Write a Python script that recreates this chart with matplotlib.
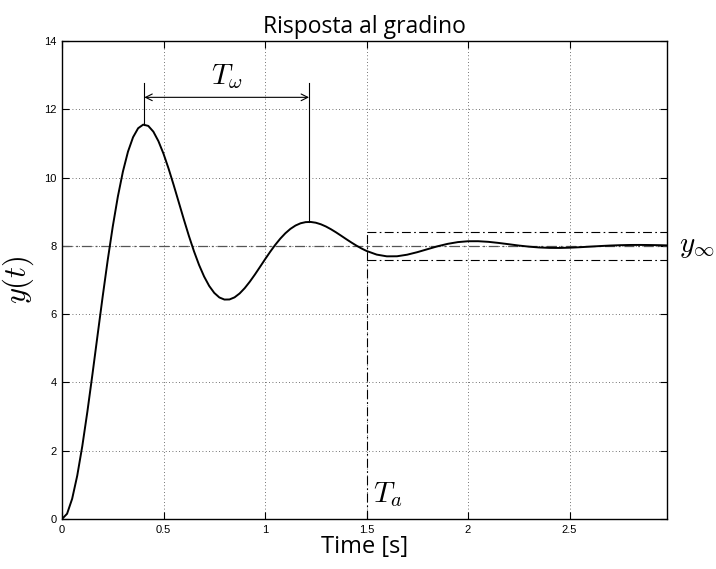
import matplotlib
matplotlib.use("Agg")
import matplotlib.pyplot as plt

plt.rcParams['mathtext.fontset'] = 'cm'

# Step response
t_vals = [0.000, 0.025, 0.050, 0.075, 0.100, 0.125, 0.150, 0.175, 0.200, 0.225,
          0.250, 0.275, 0.300, 0.325, 0.350, 0.375, 0.400, 0.425, 0.450, 0.475,
          0.500, 0.525, 0.550, 0.575, 0.600, 0.625, 0.650, 0.675, 0.700, 0.725,
          0.750, 0.775, 0.800, 0.825, 0.850, 0.875, 0.900, 0.925, 0.950, 0.975,
          1.000, 1.025, 1.050, 1.075, 1.100, 1.125, 1.150, 1.175, 1.200, 1.225,
          1.250, 1.275, 1.300, 1.325, 1.350, 1.375, 1.400, 1.425, 1.450, 1.475,
          1.500, 1.550, 1.600, 1.650, 1.700, 1.750, 1.800, 1.850, 1.900, 1.950,
          2.000, 2.050, 2.100, 2.150, 2.200, 2.250, 2.300, 2.350, 2.400, 2.450,
          2.500, 2.550, 2.600, 2.650, 2.700, 2.750, 2.800, 2.850, 2.900, 2.950,
          2.980]
y_vals = [0.000, 0.154, 0.592, 1.268, 2.136, 3.144, 4.240, 5.374, 6.500, 7.576,
          8.565, 9.439, 10.175, 10.759, 11.182, 11.445, 11.551, 11.513, 11.345, 11.066,
          10.698, 10.262, 9.782, 9.280, 8.777, 8.292, 7.843, 7.442, 7.101, 6.826,
          6.622, 6.489, 6.427, 6.430, 6.492, 6.606, 6.762, 6.950, 7.159, 7.381,
          7.605, 7.823, 8.027, 8.210, 8.368, 8.497, 8.595, 8.661, 8.695, 8.700,
          8.678, 8.632, 8.567, 8.486, 8.395, 8.297, 8.197, 8.100, 8.008, 7.924,
          7.851, 7.744, 7.693, 7.695, 7.741, 7.815, 7.902, 7.988, 8.059, 8.110,
          8.135, 8.136, 8.118, 8.086, 8.048, 8.009, 7.977, 7.953, 7.941, 7.939,
          7.946, 7.960, 7.977, 7.994, 8.009, 8.020, 8.026, 8.027, 8.024, 8.019,
          8.014]

y_final = 8.0
band_hi = 8.4
band_lo = 7.6
t_settle = 1.5
t_peak1 = 0.4056
y_peak1 = 11.55
t_peak2 = 1.2168
y_peak2 = 8.70
ann_top = 12.76
ann_arrow = 12.35

x_ticks = [0, 0.5, 1, 1.5, 2, 2.5]
x_tick_labels = ['0', '0.5', '1', '1.5', '2', '2.5']
y_ticks = [0, 2, 4, 6, 8, 10, 12, 14]
y_tick_labels = ['0', '2', '4', '6', '8', '10', '12', '14']

fig = plt.figure(figsize=(7.16, 5.69), dpi=100)
ax = fig.add_axes([62/716, 1-519/569, (667-62)/716, (519-41)/569])

ax.set_xlim(0, 2.98)
ax.set_ylim(0, 14)

ax.grid(True, linestyle=(0, (1, 3)), color='#444444', linewidth=0.6)

# reference line and band
ax.plot([0, 2.98], [y_final, y_final], color='#555555', linestyle=(0, (8, 3, 1.5, 3)), linewidth=0.9)
ax.plot([t_settle, 2.98], [band_hi, band_hi], color='black', linestyle=(0, (8, 3, 1.5, 3)), linewidth=0.8)
ax.plot([t_settle, 2.98], [band_lo, band_lo], color='black', linestyle=(0, (8, 3, 1.5, 3)), linewidth=0.8)
ax.plot([t_settle, t_settle], [0, band_hi], color='black', linestyle=(0, (8, 3, 1.5, 3)), linewidth=0.8)

ax.plot(t_vals, y_vals, color='black', linewidth=1.4)

# period annotation
ax.plot([t_peak1, t_peak1], [y_peak1, ann_top], color='black', linewidth=0.8)
ax.plot([t_peak2, t_peak2], [y_peak2, ann_top], color='black', linewidth=0.8)
ax.annotate('', xy=(t_peak1, ann_arrow), xytext=(t_peak2, ann_arrow),
            arrowprops=dict(arrowstyle='<->', color='black', lw=0.8,
                            shrinkA=0, shrinkB=0, mutation_scale=12))
ax.text((t_peak1 + t_peak2) / 2, 12.55, r'$T_\omega$', fontsize=21,
        ha='center', va='bottom')
ax.text(1.53, 0.3, r'$T_a$', fontsize=21, ha='left', va='bottom')
ax.text(3.04, y_final, r'$y_\infty$', fontsize=21, ha='left', va='center', clip_on=False)

ax.set_xticks(x_ticks)
ax.set_xticklabels(x_tick_labels)
ax.set_yticks(y_ticks)
ax.set_yticklabels(y_tick_labels)
ax.tick_params(direction='in', length=5, width=0.8, top=True, right=True,
               labelsize=8, pad=4)
for lab in ax.get_xticklabels() + ax.get_yticklabels():
    lab.set_family('Liberation Sans')
for sp in ax.spines.values():
    sp.set_linewidth(1.0)

ax.set_title('Risposta al gradino', fontsize=16.5, family='Open Sans', pad=6)
ax.set_xlabel('Time [s]', fontsize=17, family='Open Sans', labelpad=0)
ax.set_ylabel(r'$y(t)$', fontsize=22, labelpad=6)

fig.savefig('out.png', dpi=100)
